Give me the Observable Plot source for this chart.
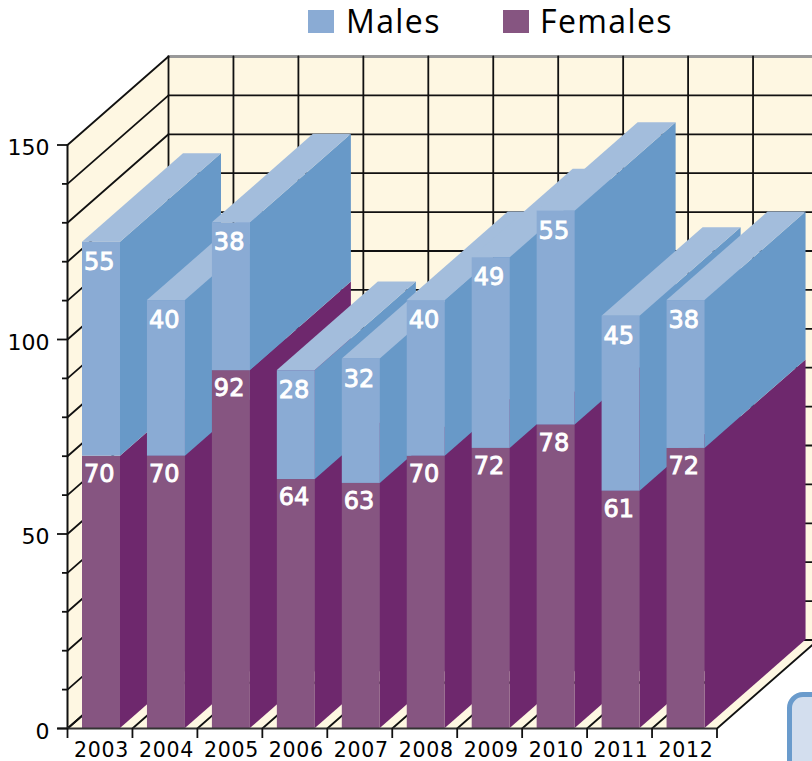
<!DOCTYPE html>
<html><head><meta charset="utf-8">
<script src="https://cdn.jsdelivr.net/npm/d3@7"></script>
<script src="https://cdn.jsdelivr.net/npm/@observablehq/plot@0.6"></script>
<style>
html,body{margin:0;padding:0;background:#fff;overflow:hidden;width:812px;height:761px;position:relative}
#legend{height:56px;position:relative;font-family:"Open Sans","Noto Sans",sans-serif;font-size:32px;line-height:42px;color:#000}
#legend span{position:absolute;letter-spacing:1.4px}
#legend i{position:absolute;top:10px;width:26px;height:23px}
#chart{position:absolute;top:56px;left:0}
#chart svg{display:block;overflow:visible}
#box{position:absolute;left:787px;top:692px;width:80px;height:120px;box-sizing:border-box;border:5px solid #6a9bcc;border-radius:16px;background:#d3deee}
.xl text{letter-spacing:.7px}
.dl text{stroke:#fff;stroke-width:.9px}
</style></head><body>
<div id="legend"></div>
<div id="chart"></div>
<div id="box"></div>
<script>
const years=["2003","2004","2005","2006","2007","2008","2009","2010","2011","2012"];
const females=[70,70,92,64,63,70,72,78,61,72];
const males=[55,40,38,28,32,40,49,55,45,38];
const seriesNames=["Males","Females"];
const yLabelTicks=[0,50,100,150];
const yMinorTicks=[10,20,30,40,60,70,80,90,110,120,130,140];

const depthX=101/64.95, depthY=88.5/3.89;
const barL=0.231, barR=0.816, barC=(barL+barR)/2;
const n=years.length, maxV=150;
const cream="#fef7e2", ink="#111", lw=1.8;
const maleC={front:"#8aabd4",side:"#6899c8",top:"#a3bddc"};
const femC={front:"#865581",side:"#6e286d"};

const legend=document.getElementById("legend");
[[seriesNames[0],308,346,maleC.front],[seriesNames[1],503,540,femC.front]].forEach(([t,sx,tx,c])=>{
  const i=document.createElement("i");i.style.left=sx+"px";i.style.background=c;legend.append(i);
  const s=document.createElement("span");s.textContent=t;s.style.left=tx+"px";s.style.top="0px";legend.append(s);
});

const marks=[];
// back wall, left wall, floor
marks.push(Plot.rect([0],{x1:depthX,x2:n+depthX,y1:depthY,y2:maxV+depthY,fill:cream}));
marks.push(Plot.areaY([{x:0,a:0,b:maxV},{x:depthX,a:depthY,b:maxV+depthY}],{x:"x",y1:"a",y2:"b",fill:cream}));
marks.push(Plot.areaX([{y:0,a:0,b:n},{y:depthY,a:depthX,b:n+depthX}],{y:"y",x1:"a",x2:"b",fill:cream}));
// grid on back wall
const xs=d3.range(0,n+1), ys=d3.range(0,maxV+1,10);
marks.push(Plot.line([[depthX,maxV+depthY],[n+depthX,maxV+depthY]],{stroke:"#999",strokeWidth:3}));
xs.forEach(i=>marks.push(Plot.line([[i+depthX,depthY],[i+depthX,maxV+depthY]],{stroke:ink,strokeWidth:lw})));
ys.forEach(v=>{ if(v<maxV) marks.push(Plot.line([[depthX,v+depthY],[n+depthX,v+depthY]],{stroke:ink,strokeWidth:lw})); });
// grid on left wall and floor
ys.forEach(v=>marks.push(Plot.line([[0,v],[depthX,v+depthY]],{stroke:ink,strokeWidth:lw})));
xs.forEach(i=>marks.push(Plot.line([[i,0],[i+depthX,depthY]],{stroke:ink,strokeWidth:lw})));
// bars
years.forEach((y,i)=>{
  const f=females[i], m=males[i], t=f+m, L=i+barL, R=i+barR;
  const side=(a,b,c)=>marks.push(Plot.areaY([{x:R,a:a,b:b},{x:R+depthX,a:a+depthY,b:b+depthY}],{x:"x",y1:"a",y2:"b",fill:c}));
  side(0,f,femC.side);
  marks.push(Plot.rect([0],{x1:L,x2:R,y1:0,y2:f,fill:femC.front}));
  side(f,t,maleC.side);
  marks.push(Plot.areaX([{y:t,a:L,b:R},{y:t+depthY,a:L+depthX,b:R+depthX}],{y:"y",x1:"a",x2:"b",fill:maleC.top}));
  marks.push(Plot.rect([0],{x1:L,x2:R,y1:f,y2:t,fill:maleC.front}));
});
// value labels
const rows=years.map((y,i)=>({i,f:females[i],m:males[i]}));
marks.push(Plot.text(rows,{x:d=>d.i+barC-0.035,y:d=>d.f,text:d=>String(d.f),dy:18,fill:"#fff",fontSize:24,fontFamily:"DejaVu Sans",className:"dl"}));
marks.push(Plot.text(rows,{x:d=>d.i+barC-0.035,y:d=>d.f+d.m,text:d=>String(d.m),dy:20,fill:"#fff",fontSize:24,fontFamily:"DejaVu Sans",className:"dl"}));
// axes
marks.push(Plot.ruleX([0],{y1:0,y2:maxV,stroke:ink,strokeWidth:2}));
marks.push(Plot.ruleY([0],{x1:-0.15,x2:n,stroke:"#333",strokeWidth:2}));
marks.push(Plot.axisY({ticks:yLabelTicks,tickSize:10,anchor:"left",text:null,stroke:ink,strokeWidth:lw,label:null}));
marks.push(Plot.axisY({ticks:yLabelTicks,tickSize:0,tickPadding:18,anchor:"left",fontSize:22,fontFamily:"DejaVu Sans",tickFormat:d=>String(d),fill:"#000",dy:3,label:null}));
marks.push(Plot.axisY({ticks:yMinorTicks,tickSize:5,anchor:"left",text:null,stroke:ink,strokeWidth:lw,label:null}));
marks.push(Plot.axisX({ticks:xs,tickSize:10,anchor:"bottom",text:null,stroke:ink,strokeWidth:lw,label:null}));
marks.push(Plot.text(years,{x:(d,i)=>i+barC,y:0,text:d=>d,dy:22,fontSize:20.5,fontFamily:"DejaVu Sans",fill:"#000",className:"xl"}));

const chart=Plot.plot({
  width:812,height:705,marginLeft:67,marginRight:95.5,marginBottom:33,marginTop:88.5,
  style:{background:"transparent",overflow:"visible"},
  x:{type:"linear",domain:[0,n],axis:null},
  y:{type:"linear",domain:[0,maxV],axis:null},
  marks
});
document.getElementById("chart").append(chart);
</script>
</body></html>
